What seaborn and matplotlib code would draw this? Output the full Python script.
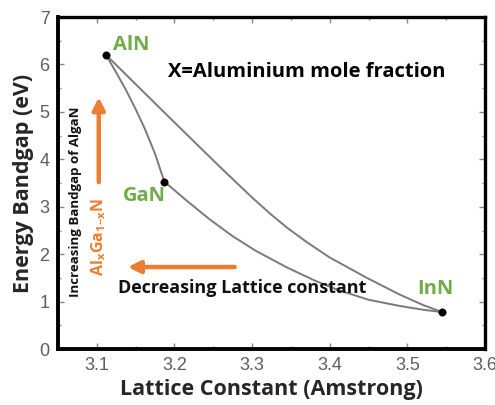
import numpy as np
import pandas as pd
import seaborn as sns
import matplotlib.pyplot as plt
from matplotlib.ticker import MultipleLocator

# end points (binary compounds)
compounds = ['AlN', 'GaN', 'InN']
lattice = [3.112, 3.187, 3.545]
bandgap = [6.20, 3.53, 0.78]

# AlN -> InN curve
alin_x = [3.112, 3.146, 3.190, 3.233, 3.265, 3.301, 3.325, 3.345, 3.370,
          3.400, 3.448, 3.490, 3.520, 3.545]
alin_y = [6.20, 5.65, 4.94, 4.25, 3.74, 3.18, 2.83, 2.56, 2.26,
          1.93, 1.50, 1.15, 0.93, 0.78]

# AlN -> GaN curve
algan_x = [3.112, 3.125, 3.138, 3.150, 3.162, 3.175, 3.187]
algan_y = [6.20, 5.83, 5.45, 5.06, 4.64, 4.12, 3.53]

# GaN -> InN curve
ingan_x = [3.187, 3.215, 3.245, 3.275, 3.305, 3.345, 3.380, 3.410, 3.450,
           3.490, 3.520, 3.545]
ingan_y = [3.53, 3.14, 2.74, 2.38, 2.07, 1.72, 1.45, 1.25, 1.04,
           0.91, 0.83, 0.78]

green = '#70AD47'
orange = '#ED7D31'

sns.set_style('ticks')
plt.rcParams['font.family'] = ['Open Sans', 'DejaVu Sans']
plt.rcParams['mathtext.fontset'] = 'custom'
plt.rcParams['mathtext.bf'] = 'Open Sans:bold'
plt.rcParams['mathtext.rm'] = 'Open Sans:bold'

fig = plt.figure(figsize=(4.95, 4.05), dpi=100)
ax = fig.add_axes([0.117, 0.138, 0.863, 0.820])

curves = pd.concat([
    pd.DataFrame({'a': alin_x, 'e': alin_y, 'alloy': 'AlInN'}),
    pd.DataFrame({'a': algan_x, 'e': algan_y, 'alloy': 'AlGaN'}),
    pd.DataFrame({'a': ingan_x, 'e': ingan_y, 'alloy': 'InGaN'}),
])
for name, grp in curves.groupby('alloy'):
    sns.lineplot(data=grp, x='a', y='e', ax=ax, color='#7a7a7a', lw=1.4,
                 sort=False, estimator=None, legend=False)

sns.scatterplot(x=lattice, y=bandgap, ax=ax, color='black', s=28,
                edgecolor='black', zorder=5, legend=False)

label_pos = {'AlN': (3.1438, 6.41), 'GaN': (3.1618, 3.23), 'InN': (3.5363, 1.27)}
for c in compounds:
    ax.text(*label_pos[c], c, color=green, fontsize=14.5, fontweight='bold',
            ha='center', va='center')

ax.text(3.370, 5.84, 'X=Aluminium mole fraction', fontsize=14.5,
        fontweight='bold', ha='center', va='center', color='black')
ax.text(3.127, 1.29, 'Decreasing Lattice constant', fontsize=13,
        fontweight='bold', ha='left', va='center', color='#111111')
ax.text(3.073, 3.10, 'Increasing Bandgap of AlgaN', fontsize=9.5,
        fontweight='bold', rotation=90, ha='center', va='center', color='#111111')
ax.text(3.1026, 2.36, r'Al$_{\mathbf{x}}$Ga$_{\mathbf{1\!-\!x}}$N', fontsize=11.5,
        fontweight='bold', rotation=90, ha='center', va='center', color=orange)

arrow = dict(arrowstyle='-|>', lw=3.2, color=orange, mutation_scale=18,
             shrinkA=0, shrinkB=0)
ax.annotate('', xy=(3.140, 1.73), xytext=(3.2776, 1.73), arrowprops=arrow)
ax.annotate('', xy=(3.1026, 5.31), xytext=(3.1026, 3.52), arrowprops=arrow)

ax.set_xlim(3.05, 3.6)
ax.set_ylim(0, 7)
ax.xaxis.set_major_locator(MultipleLocator(0.1))
ax.xaxis.set_minor_locator(MultipleLocator(0.05))
ax.yaxis.set_major_locator(MultipleLocator(1))
ax.yaxis.set_minor_locator(MultipleLocator(0.5))
ax.set_xticks(np.arange(3.1, 3.61, 0.1))
ax.set_xticklabels(['3.1', '3.2', '3.3', '3.4', '3.5', '3.6'])

ax.tick_params(which='both', direction='in', top=True, right=True,
               color='#888888', labelcolor='#5e5e5e', width=1)
ax.tick_params(which='major', length=4, pad=6)
ax.tick_params(which='minor', length=2.5)
for lab in ax.get_xticklabels() + ax.get_yticklabels():
    lab.set_family('Liberation Sans')
    lab.set_fontsize(13)
for side in ['left', 'bottom']:
    ax.spines[side].set_linewidth(2.8)
for side in ['top', 'right']:
    ax.spines[side].set_linewidth(2.4)
for s in ax.spines.values():
    s.set_color('black')

ax.set_xlabel('Lattice Constant (Amstrong)', fontsize=15.5, fontweight='bold',
              labelpad=3)
ax.set_ylabel('Energy Bandgap (eV)', fontsize=15.5, fontweight='bold', labelpad=4)

fig.savefig('out.png', dpi=100)
